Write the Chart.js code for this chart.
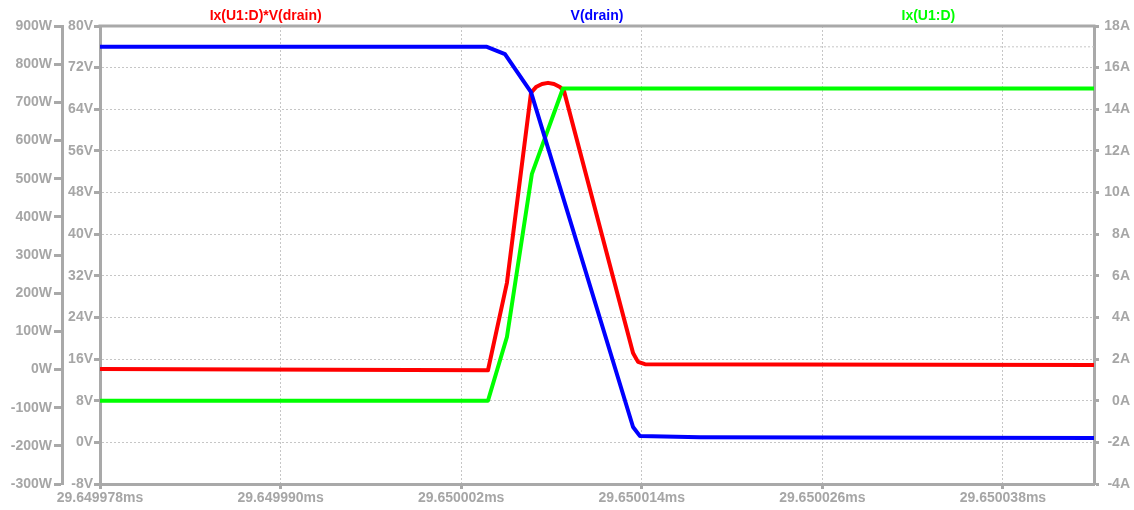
<!DOCTYPE html>
<html>
<head>
<meta charset="utf-8">
<script src="https://cdn.jsdelivr.net/npm/chart.js@4/dist/chart.umd.min.js"></script>
<style>
  html, body { margin: 0; padding: 0; background: #ffffff; }
  #wrap { width: 1134px; height: 510px; }
</style>
</head>
<body>
<div id="wrap"><canvas id="plot" width="1134" height="510"></canvas></div>
<script>
// Time axis: nanoseconds after 29.649978 ms
const timeEndNs = 66.05;
const timeTicksNs = [0, 12, 24, 36, 48, 60];
const timeTickLabels = ['29.649978ms', '29.649990ms', '29.650002ms', '29.650014ms', '29.650026ms', '29.650038ms'];

// Axis tick values
const powerTicks = [-300, -200, -100, 0, 100, 200, 300, 400, 500, 600, 700, 800, 900];
const voltTicks = [-8, 0, 8, 16, 24, 32, 40, 48, 56, 64, 72, 80];
const ampTicks = [-4, -2, 0, 2, 4, 6, 8, 10, 12, 14, 16, 18];

// Ix(U1:D)*V(drain) in W
const powerT = [0, 25.78, 27.04, 28.64, 28.97, 29.37, 29.77, 30.17, 30.56, 30.83, 35.42, 35.75, 36.21, 66.05];
const powerW = [1, -2, 227, 725, 740, 748, 751, 748, 740, 730, 43, 20, 14, 12];

// V(drain) in V
const vdrainT = [0, 25.71, 26.91, 28.64, 35.42, 35.88, 39.87, 66.05];
const vdrainV = [76, 76, 74.6, 67.3, 2.95, 1.2, 1.0, 0.85];

// Ix(U1:D) in A
const drainT = [0, 25.78, 27.04, 28.7, 30.76, 66.05];
const drainA = [0, 0, 3.06, 10.9, 15.0, 15.0];

// Dotted marker level on the current axis
const markerLevelA = [17];

const toPoints = (ts, vs) => ts.map((t, i) => ({ x: t, y: vs[i] }));

const GRAY = '#a9a9a9';
const TEXT_GRAY = '#a6a6a6';
const GRID = '#c6c6c6';
const FONT = { family: "'Liberation Sans', Arial, sans-serif", size: 14, weight: 'bold' };

// Trace names above the plot, each centred in a third of the width
const traceTitles = {
  id: 'traceTitles',
  afterDraw(chart) {
    const { ctx, chartArea } = chart;
    const named = chart.data.datasets.filter(d => d.label);
    ctx.save();
    ctx.font = `bold 14px ${FONT.family}`;
    ctx.textAlign = 'center';
    ctx.textBaseline = 'middle';
    named.forEach((d, i) => {
      const x = chartArea.left + chartArea.width * (i + 0.5) / named.length;
      ctx.fillStyle = d.borderColor;
      ctx.fillText(d.label, x, 16);
    });
    ctx.restore();
  }
};

// Top edge of the plot frame
const frameTop = {
  id: 'frameTop',
  beforeDatasetsDraw(chart) {
    const { ctx, chartArea } = chart;
    ctx.save();
    ctx.strokeStyle = GRAY;
    ctx.lineWidth = 3;
    ctx.beginPath();
    ctx.moveTo(chartArea.left - 1.5, chartArea.top);
    ctx.lineTo(chartArea.right + 1.5, chartArea.top);
    ctx.stroke();
    ctx.restore();
  }
};

const tickSetter = (values) => (scale) => { scale.ticks = values.map(v => ({ value: v })); };

const trace = (label, axis, color, ts, vs, order) => ({
  label, yAxisID: axis, data: toPoints(ts, vs),
  borderColor: color, backgroundColor: color, borderWidth: 4,
  pointRadius: 0, tension: 0, borderJoinStyle: 'round', fill: false, order
});

new Chart(document.getElementById('plot'), {
  type: 'line',
  data: {
    datasets: [
      trace('Ix(U1:D)*V(drain)', 'yW', '#ff0000', powerT, powerW, 3),
      trace('V(drain)', 'yV', '#0000ff', vdrainT, vdrainV, 1),
      trace('Ix(U1:D)', 'yA', '#00ff00', drainT, drainA, 2),
      {
        label: '', yAxisID: 'yA',
        data: [{ x: 0, y: markerLevelA[0] }, { x: timeEndNs, y: markerLevelA[0] }],
        borderColor: GRID, borderWidth: 1, borderDash: [2, 2],
        pointRadius: 0, tension: 0, fill: false, order: 10
      }
    ]
  },
  options: {
    responsive: false,
    animation: false,
    events: [],
    layout: { padding: { top: 26, right: 4, left: 0, bottom: 0 } },
    plugins: { legend: { display: false }, tooltip: { enabled: false } },
    scales: {
      x: {
        type: 'linear', position: 'bottom', min: 0, max: timeEndNs,
        afterBuildTicks: tickSetter(timeTicksNs),
        afterFit: (s) => { s.height = 26; },
        ticks: {
          callback: (v, i) => timeTickLabels[i],
          autoSkip: false, maxRotation: 0, color: TEXT_GRAY, font: FONT, padding: 1
        },
        grid: { color: GRID, lineWidth: 1, drawTicks: true, tickLength: 5, tickColor: GRAY, tickWidth: 3 },
        border: { display: true, color: GRAY, width: 3, dash: [2, 2] }
      },
      yV: {
        type: 'linear', position: 'left', weight: 0, min: -8, max: 80,
        afterBuildTicks: tickSetter(voltTicks),
        afterFit: (s) => { s.width = 38; },
        ticks: { callback: (v) => v + 'V', color: TEXT_GRAY, font: FONT, padding: 1 },
        grid: { color: GRID, lineWidth: 1, drawOnChartArea: true, drawTicks: true, tickLength: 6, tickColor: GRAY, tickWidth: 3 },
        border: { display: true, color: GRAY, width: 3, dash: [2, 2] }
      },
      yW: {
        type: 'linear', position: 'left', weight: 1, min: -300, max: 900,
        afterBuildTicks: tickSetter(powerTicks),
        afterFit: (s) => { s.width = 62; },
        ticks: { callback: (v) => v + 'W', color: TEXT_GRAY, font: FONT, padding: 2 },
        grid: { drawOnChartArea: false, drawTicks: true, tickLength: 8, tickColor: GRAY, tickWidth: 3 },
        border: { display: true, color: GRAY, width: 3 }
      },
      yA: {
        type: 'linear', position: 'right', min: -4, max: 18,
        afterBuildTicks: tickSetter(ampTicks),
        afterFit: (s) => { s.width = 36; },
        ticks: { callback: (v) => v + 'A', color: TEXT_GRAY, font: FONT, padding: 1, crossAlign: 'far' },
        grid: { drawOnChartArea: false, drawTicks: true, tickLength: 5, tickColor: GRAY, tickWidth: 3 },
        border: { display: true, color: GRAY, width: 3 }
      }
    }
  },
  plugins: [frameTop, traceTitles]
});
</script>
</body>
</html>
